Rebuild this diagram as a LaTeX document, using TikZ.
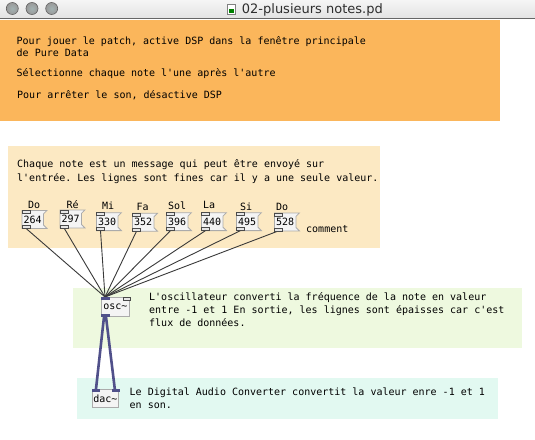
\documentclass[tikz,border=0pt]{standalone}
\usepackage{fontspec}
\setmonofont{DejaVu Sans Mono}
\newfontfamily\titlefont{DejaVu Sans}
\pgfdeclarelayer{boxes}
\pgfdeclarelayer{flags}
\pgfsetlayers{boxes,flags,main}
\definecolor{orangebox}{HTML}{FBB65B}
\definecolor{beigebox}{HTML}{FCE9C3}
\definecolor{greenbox}{HTML}{EEF9DF}
\definecolor{cyanbox}{HTML}{E2F9F1}
\definecolor{sig}{HTML}{50508A}
\definecolor{objline}{HTML}{ABABAB}
\definecolor{objfill}{HTML}{F4F4F4}
\definecolor{ctlline}{HTML}{3A3A3A}
\definecolor{portline}{HTML}{4A4A4A}
\definecolor{portfill}{HTML}{E6E6E6}
\definecolor{titlegray}{HTML}{2E2E2E}
\tikzset{
  pdfont/.style={font=\ttfamily\fontsize{10}{12}\selectfont},
  pdtext/.style={pdfont, inner sep=0pt, anchor=base west},
  msg/.style={pdfont, inner sep=0pt, minimum width=21pt, minimum height=17.5pt, anchor=north west},
  flag/.style={draw=objline, fill=objfill, line width=0.8pt},
  obj/.style={pdfont, draw=objline, fill=objfill, line width=0.8pt, inner sep=0pt, anchor=north west},
  port/.style={draw=portline, fill=portfill, line width=0.6pt},
  sigport/.style={fill=sig},
  ctl/.style={draw=ctlline, line width=0.9pt},
  sigw/.style={draw=sig, line width=2.6pt},
  lightbtn/.style={draw=gray!75!black, line width=0.6pt, inner color=white!85!cyan!40!gray, outer color=gray!80}
}
\begin{document}
\begin{tikzpicture}[x=1pt, y=-1pt]
\useasboundingbox (0,0) rectangle (535,439);
% comment boxes (background layer)
\begin{pgfonlayer}{boxes}
\fill[white] (0,0) rectangle (535,439);
\fill[orangebox] (0,20) rectangle (500,121);
\fill[beigebox] (8,146) rectangle (380,248);
\fill[greenbox] (73,288) rectangle (522,348);
\fill[cyanbox] (77,378) rectangle (498,419);
\end{pgfonlayer}
% window title bar
\shade[top color=white!92!gray, bottom color=white!78!gray] (0,0) rectangle (535,18);
\fill[gray!80!black] (0,18) rectangle (535,19);
\foreach \cx in {12.3,32,51.7} \path[lightbtn] (\cx,8.5) circle (6);
\draw[gray, fill=white, line width=0.5pt] (227,4.5) rectangle (235,14.5);
\fill[green!50!black] (228.5,9) rectangle (233.5,13);
\node[font=\titlefont\fontsize{13}{15}\selectfont, text=titlegray, inner sep=0pt, anchor=base west] (title) at (241.7,13.8) {02-plusieurs notes.pd};
% orange comments
\node[pdtext] (c1) at (16.5,44) {Pour jouer le patch, active DSP dans la fenêtre principale};
\node[pdtext] (c2) at (16.5,56.5) {de Pure Data};
\node[pdtext] (c3) at (16.5,76) {Sélectionne chaque note l'une après l'autre};
\node[pdtext] (c4) at (17,98) {Pour arrêter le son, désactive DSP};
% beige comments
\node[pdtext] (c5) at (17,167.5) {Chaque note est un message qui peut être envoyé sur};
\node[pdtext] (c6) at (17,181) {l'entrée. Les lignes sont fines car il y a une seule valeur.};
\node[pdtext] (c7) at (306,232) {comment};
% green comments
\node[pdtext] (c8) at (149,300.5) {L'oscillateur converti la fréquence de la note en valeur};
\node[pdtext] (c9) at (149,313.5) {entre -1 et 1 En sortie, les lignes sont épaisses car c'est};
\node[pdtext] (c10) at (149,326.5) {flux de données.};
% cyan comments
\node[pdtext] (c11) at (129.5,395.5) {Le Digital Audio Converter convertit la valeur enre -1 et 1};
\node[pdtext] (c12) at (129.5,408.5) {en son.};
% objects
\node[obj, minimum width=28pt, minimum height=19pt] (osc) at (101,297) {osc\textasciitilde};
\node[obj, minimum width=26pt, minimum height=18pt] (dac) at (92,389) {dac\textasciitilde};
% messages and labels
\foreach \i/\x/\y/\v/\lx/\ly/\lab in {
  1/22/210.5/264/28/208.3/Do,
  2/60/210/297/66.5/208.3/Ré,
  3/96.5/212.7/330/102/209.3/Mi,
  4/132.5/213.3/352/136.5/210/Fa,
  5/166.5/212.7/396/168/209/Sol,
  6/201.5/212.7/440/203/208.3/La,
  7/236.5/212.7/495/240/210.7/Si,
  8/274.5/213/528/276/210.7/Do}
{
  \node[msg] (m\i) at (\x,\y) {\v};
  \node[pdtext] (l\i) at (\lx,\ly) {\lab};
}
\begin{pgfonlayer}{flags}
\foreach \i in {1,...,8}
  \draw[flag] (m\i.north west) -- ([xshift=3.5pt]m\i.north east) -- ([yshift=-3.5pt]m\i.north east)
    -- ([yshift=3.5pt]m\i.south east) -- ([xshift=3.5pt]m\i.south east) -- (m\i.south west) -- cycle;
\end{pgfonlayer}
% control connections
\foreach \i in {1,...,8}
  \draw[ctl] ([xshift=4pt]m\i.south west) -- ([xshift=4pt]osc.north west);
% signal connections
\draw[sigw] ([xshift=3pt]osc.south west) -- ([xshift=4pt]dac.north west);
\draw[sigw] ([xshift=5pt]osc.south west) -- ([xshift=-4pt]dac.north east);
% ports
\foreach \i in {1,...,8} {
  \draw[port] (m\i.north west) rectangle ++(8,3);
  \draw[port] (m\i.south west) rectangle ++(8,-3);
}
\fill[sigport] (osc.north west) rectangle ++(8.5,3);
\draw[port] ([xshift=-7pt]osc.north east) rectangle ++(7,3);
\fill[sigport] (osc.south west) rectangle ++(8.5,-3);
\fill[sigport] (dac.north west) rectangle ++(8,3);
\fill[sigport] ([xshift=-7pt]dac.north east) rectangle ++(8,3);
\end{tikzpicture}
\end{document}
